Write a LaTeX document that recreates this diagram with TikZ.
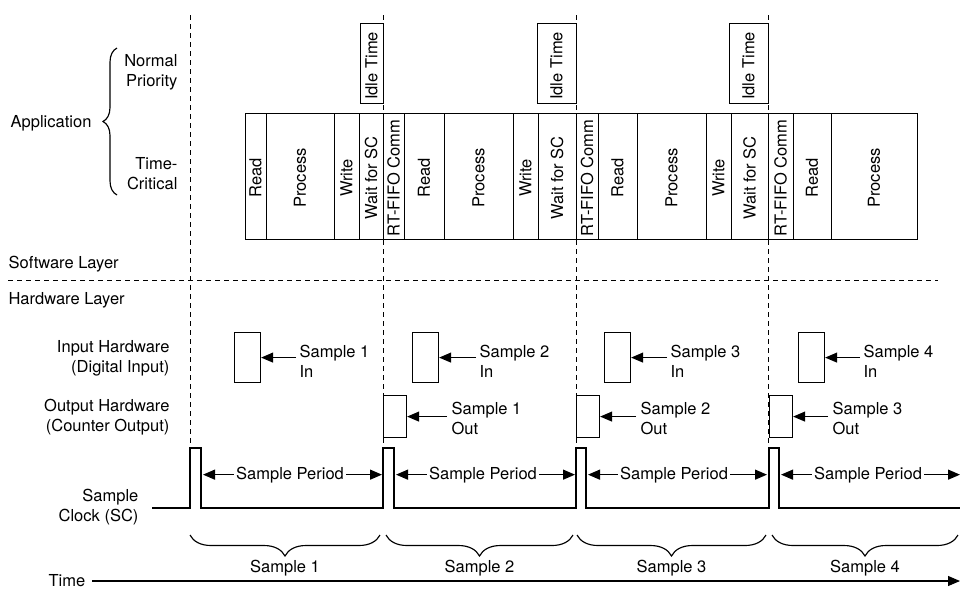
\documentclass[tikz,border=0pt]{standalone}
\usepackage{fontspec}
\setmainfont{TeX Gyre Heros}
\usetikzlibrary{arrows.meta,decorations.pathreplacing}
\begin{document}
\begin{tikzpicture}[x=1pt,y=-1pt,
  font=\fontsize{16.5}{20}\selectfont,
  line width=1.15pt,
  vdash/.style={line width=0.9pt,dash pattern=on 5pt off 4pt},
  cell/.style={draw,fill=white,minimum height=126pt,anchor=north west,inner sep=0pt},
  idlebox/.style={draw,fill=white,minimum height=80pt,anchor=north west,inner sep=0pt},
  hwbox/.style={draw,fill=white,anchor=north west,inner sep=0pt},
  vtext/.style={rotate=90,inner sep=0pt},
  lbl/.style={inner sep=0pt},
  arr/.style={-{Triangle[length=12pt,width=10pt]}},
  brc/.style={decorate,decoration={brace,amplitude=#1}}
]
\useasboundingbox (0,0) rectangle (960,590);

% vertical dashed lines
\foreach \i/\x in {1/190,2/383,3/576,4/768}{
  \coordinate (vt\i) at (\x,15);
  \coordinate (vb\i) at (\x,448);
  \draw[vdash] (vt\i) -- (vb\i);
}
% horizontal dashed line
\coordinate (hl) at (8,280);
\coordinate (hr) at (938,280);
\draw[vdash] (hl) -- (hr);

% idle time boxes
\foreach \n/\a/\b in {i1/360/383,i2/537/576,i3/729/768}{
  \node[idlebox,minimum width={\b-\a}] (\n) at (\a,23) {};
  \node[vtext] (\n t) at ({(\a+\b)/2},66) {Idle Time};
}

% time-critical cells
\foreach \n/\a/\b/\t in {r1/245/266/Read,p1/266/334/Process,w1/334/359/Write,s1/359/383/Wait for SC,
  f1/383/404/RT-FIFO Comm,r2/404/444/Read,p2/444/513/Process,w2/513/538/Write,s2/538/576/Wait for SC,
  f2/576/598/RT-FIFO Comm,r3/598/637/Read,p3/637/706/Process,w3/706/731/Write,s3/731/768/Wait for SC,
  f3/768/793/RT-FIFO Comm,r4/793/831/Read,p4/831/917/Process}{
  \node[cell,minimum width={\b-\a}] (\n) at (\a,113) {};
  \node[vtext] (\n t) at ({(\a+\b)/2},178) {\t};
}

% left labels
\node[lbl,anchor=base east] (app) at (92,127) {Application};
\node[lbl,anchor=east,align=right] (np) at (178,72) {Normal\\Priority};
\node[lbl,anchor=east,align=right] (tc) at (178,174) {Time-\\Critical};
\coordinate (bra) at (117,195);
\coordinate (brb) at (117,48);
\draw[brc=14pt] (bra) -- (brb);
\node[lbl,anchor=base west] (sw) at (8,268) {Software Layer};
\node[lbl,anchor=base west] (hw) at (8,304) {Hardware Layer};
\node[lbl,anchor=east,align=right] (ih) at (170,358) {Input Hardware\\(Digital Input)};
\node[lbl,anchor=east,align=right] (oh) at (170,417) {Output Hardware\\(Counter Output)};
\node[lbl,anchor=east,align=right] (sc) at (139,507) {Sample\\Clock (SC)};

% input hardware
\foreach \k/\bx/\tx in {1/234/299,2/412/479,3/604/670,4/798/863}{
  \node[hwbox,minimum width=26pt,minimum height=50pt] (in\k) at (\bx,332) {};
  \node[anchor=west,align=left,inner sep=3pt] (sin\k) at ({\tx-3},361) {Sample \k\\In};
  \draw[arr] (sin\k.west |- in\k.east) -- (in\k.east);
}
% output hardware
\foreach \k/\bx/\tx in {1/383/451,2/576/640,3/769/832}{
  \node[hwbox,minimum width=23pt,minimum height=42pt] (out\k) at (\bx,395) {};
  \node[anchor=west,align=left,inner sep=4pt] (sout\k) at ({\tx-4},418) {Sample \k\\Out};
  \draw[arr] (sout\k.west |- out\k.east) -- (out\k.east);
}

% sample clock
\coordinate (c0) at (152,508);
\coordinate (c9) at (960,508);
\draw (c0) -- (190,508) -- (190,448) -- (201,448) -- (201,508)
  -- (383,508) -- (383,448) -- (394,448) -- (394,508)
  -- (576,508) -- (576,448) -- (586,448) -- (586,508)
  -- (769,508) -- (769,448) -- (779,448) -- (779,508) -- (c9);

% sample period arrows
\foreach \k/\l/\m/\r in {1/203/290/382,2/396/483/575,3/588/674/767,4/781/868/960}{
  \node[anchor=base,inner sep=2pt] (sp\k) at (\m,479) {Sample Period};
  \coordinate (spl\k) at (\l,473);
  \coordinate (spr\k) at (\r,473);
  \draw[arr] (sp\k.west) -- (sp\k.west -| spl\k);
  \draw[arr] (sp\k.east) -- (sp\k.east -| spr\k);
}

% bottom braces
\foreach \k/\a/\b in {1/190/380,2/386/573,3/577/766,4/772/958}{
  \coordinate (ba\k) at (\b,535);
  \coordinate (bb\k) at (\a,535);
  \draw[brc=21pt] (ba\k) -- (bb\k);
  \node[lbl,anchor=base] (sl\k) at ({(\a+\b)/2},572) {Sample \k};
}

% time axis
\node[lbl,anchor=base west] (time) at (48,586) {Time};
\coordinate (t0) at (92,581);
\coordinate (t1) at (960,581);
\draw[arr] (t0) -- (t1);
\end{tikzpicture}
\end{document}
